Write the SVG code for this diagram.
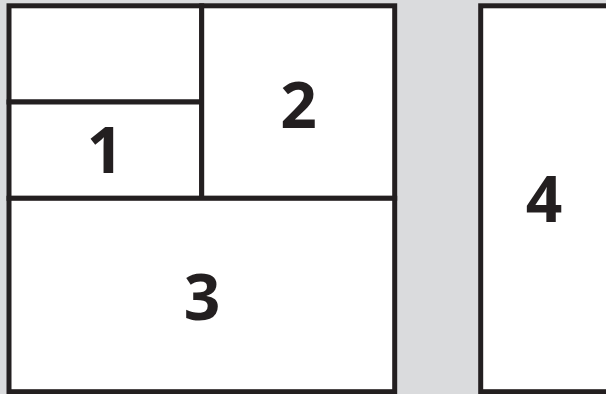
<svg xmlns="http://www.w3.org/2000/svg" width="606" height="394" viewBox="0 0 606 394">
<style>
.cell{fill:#ffffff;stroke:#231f20;stroke-width:5;stroke-linejoin:miter}
.lbl{font-family:"Open Sans","Liberation Sans",sans-serif;font-weight:700;font-size:64px;fill:#231f20;text-anchor:middle}
</style>
<rect x="0" y="0" width="606" height="394" fill="#dadbdd"/>
<g id="cell-top-left">
<rect class="cell" x="9" y="5.8" width="192.7" height="96.2"/>
</g>
<g id="cell-1">
<rect class="cell" x="9" y="102" width="192.7" height="96.3"/>
<text class="lbl" x="105" y="173.3">1</text>
</g>
<g id="cell-2">
<rect class="cell" x="201.7" y="5.8" width="193" height="192.5"/>
<text class="lbl" x="298.5" y="128.3">2</text>
</g>
<g id="cell-3">
<rect class="cell" x="9" y="198.3" width="385.7" height="193.4"/>
<text class="lbl" x="202" y="320">3</text>
</g>
<g id="cell-4">
<rect class="cell" x="480.7" y="5.8" width="140" height="385.9"/>
<text class="lbl" x="544" y="221.7">4</text>
</g>
<g id="connectors"></g>
</svg>
